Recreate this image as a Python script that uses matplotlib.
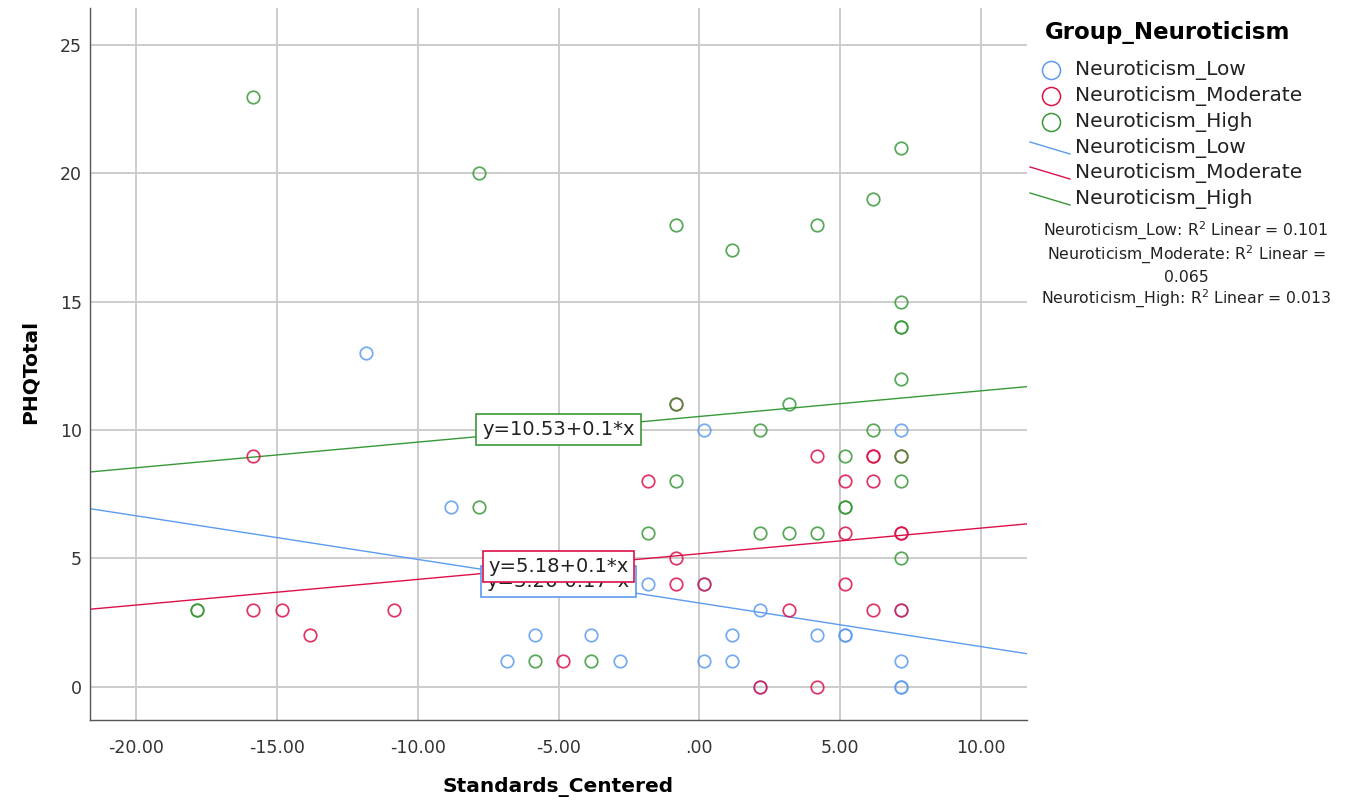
import matplotlib
matplotlib.use("Agg")
import matplotlib.pyplot as plt
from matplotlib.lines import Line2D
import numpy as np

W, H = 1363, 801

# ---------------- data ----------------
groups = ["Neuroticism_Low", "Neuroticism_Moderate", "Neuroticism_High"]
colors = ["#5b9bf0", "#dc1048", "#389838"]

low_x = [-11.83, -8.83, -6.83, -5.83, -3.83, -2.83, -1.83, 0.17, 0.17, 0.17,
         1.17, 1.17, 2.17, 2.17, 4.17, 5.17, 5.17, 7.17, 7.17, 7.17, 7.17, 7.17]
low_y = [13, 7, 1, 2, 2, 1, 4, 10, 4, 1,
         2, 1, 3, 0, 2, 2, 2, 10, 3, 1, 0, 0]

mod_x = [-15.83, -15.83, -14.83, -13.83, -10.83, -4.83, -1.83, -0.83, -0.83, -0.83,
         0.17, 2.17, 3.17, 4.17, 4.17, 5.17, 5.17, 5.17, 6.17, 6.17, 6.17, 6.17,
         7.17, 7.17, 7.17, 7.17]
mod_y = [9, 3, 3, 2, 3, 1, 8, 11, 5, 4,
         4, 0, 3, 9, 0, 8, 6, 4, 9, 9, 8, 3,
         9, 6, 6, 3]

high_x = [-17.83, -17.83, -15.83, -7.83, -7.83, -5.83, -3.83, -1.83, -0.83, -0.83,
          -0.83, 1.17, 2.17, 2.17, 3.17, 3.17, 4.17, 4.17, 5.17, 5.17, 5.17,
          6.17, 6.17, 7.17, 7.17, 7.17, 7.17, 7.17, 7.17, 7.17, 7.17]
high_y = [3, 3, 23, 20, 7, 1, 1, 6, 18, 11,
          8, 17, 10, 6, 11, 6, 18, 6, 9, 7, 7,
          19, 10, 21, 15, 14, 14, 12, 9, 8, 5]

intercepts = [3.26, 5.18, 10.53]
slopes = [-0.17, 0.1, 0.1]
fit_labels = ["y=3.26-0.17*x", "y=5.18+0.1*x", "y=10.53+0.1*x"]
r2_values = ["0.101", "0.065", "0.013"]

x_ticks = [-20, -15, -10, -5, 0, 5, 10]
x_ticklabels = ["-20.00", "-15.00", "-10.00", "-5.00", ".00", "5.00", "10.00"]
y_ticks = [0, 5, 10, 15, 20, 25]

xlim = (-21.63, 11.63)
ylim = (-1.3, 26.45)

# ---------------- figure ----------------
fig = plt.figure(figsize=(W / 100, H / 100), dpi=100)
ax_left, ax_right, ax_top, ax_bottom = 90, 1027, 8, 720
ax = fig.add_axes([ax_left / W, 1 - ax_bottom / H, (ax_right - ax_left) / W,
                   (ax_bottom - ax_top) / H])
ax.set_xlim(*xlim)
ax.set_ylim(*ylim)

for s in ["top", "right"]:
    ax.spines[s].set_visible(False)
for s in ["left", "bottom"]:
    ax.spines[s].set_color("#555555")
    ax.spines[s].set_linewidth(1.0)

ax.set_xticks(x_ticks)
ax.set_xticklabels(x_ticklabels)
ax.set_yticks(y_ticks)
ax.tick_params(axis="x", length=0, labelsize=12.5, labelcolor="#333333", pad=14)
ax.tick_params(axis="y", length=0, labelsize=12.5, labelcolor="#333333", pad=6)
ax.grid(True, color="#cccccc", linewidth=1.4, zorder=0)
ax.set_axisbelow(True)

ax.set_xlabel("Standards_Centered", fontsize=14.5, fontweight="bold")
ax.set_ylabel("PHQTotal", fontsize=14.5, fontweight="bold")
ax.xaxis.set_label_coords(0.5 + (558 - (ax_left + ax_right) / 2) / (ax_right - ax_left),
                          (ax_bottom - 787) / (ax_bottom - ax_top))
ax.xaxis.label.set_va("center")
ax.yaxis.set_label_coords((30 - ax_left) / (ax_right - ax_left),
                          (ax_bottom - 372) / (ax_bottom - ax_top))
ax.yaxis.label.set_va("center")

series = [(low_x, low_y), (mod_x, mod_y), (high_x, high_y)]
for (xs, ys), c in zip(series, colors):
    ax.plot(xs, ys, linestyle="none", marker="o", markersize=9,
            markerfacecolor="none", markeredgecolor=c, markeredgewidth=1.25,
            alpha=0.85, zorder=3)

xl = np.array(xlim)
for a, b, c in zip(intercepts, slopes, colors):
    ax.plot(xl, a + b * xl, color=c, linewidth=1.0, zorder=2)

# fit labels placed at x = -5 on their lines (blue under red)
for i in [0, 1, 2]:
    a, b, c = intercepts[i], slopes[i], colors[i]
    ax.text(-5, a + b * (-5), fit_labels[i], fontsize=14, ha="center", va="center",
            color="#222222", zorder=5 + i,
            bbox=dict(boxstyle="square,pad=0.3", facecolor="white", edgecolor=c,
                      linewidth=1.2))

# ---------------- legend (drawn manually) ----------------
def P(x, y):
    return (x / W, 1 - y / H)

fig.text(*P(1045, 32), "Group_Neuroticism", fontsize=16.5, fontweight="bold",
         ha="left", va="center")
rows = [70, 96, 122, 148, 173, 199]
for i, g in enumerate(groups):
    y = rows[i]
    fig.add_artist(Line2D([1051 / W], [1 - y / H], marker="o", markersize=13,
                          markerfacecolor="none", markeredgecolor=colors[i],
                          markeredgewidth=1.1, linestyle="none",
                          transform=fig.transFigure))
    fig.text(*P(1075, y), g, fontsize=14.5, ha="left", va="center", color="#222222")
for i, g in enumerate(groups):
    y = rows[3 + i]
    fig.add_artist(Line2D([1030 / W, 1070 / W], [1 - (y - 6) / H, 1 - (y + 6) / H],
                          color=colors[i], linewidth=1.0, transform=fig.transFigure))
    fig.text(*P(1075, y), g, fontsize=14.5, ha="left", va="center", color="#222222")

r2_lines = [
    (231, f"{groups[0]}: R$^2$ Linear = {r2_values[0]}"),
    (255, f"{groups[1]}: R$^2$ Linear ="),
    (277, f"{r2_values[1]}"),
    (299, f"{groups[2]}: R$^2$ Linear = {r2_values[2]}"),
]
for y, t in r2_lines:
    fig.text(*P(1186, y), t, fontsize=11.3, ha="center", va="center", color="#222222")

fig.savefig("out.png", dpi=100)
